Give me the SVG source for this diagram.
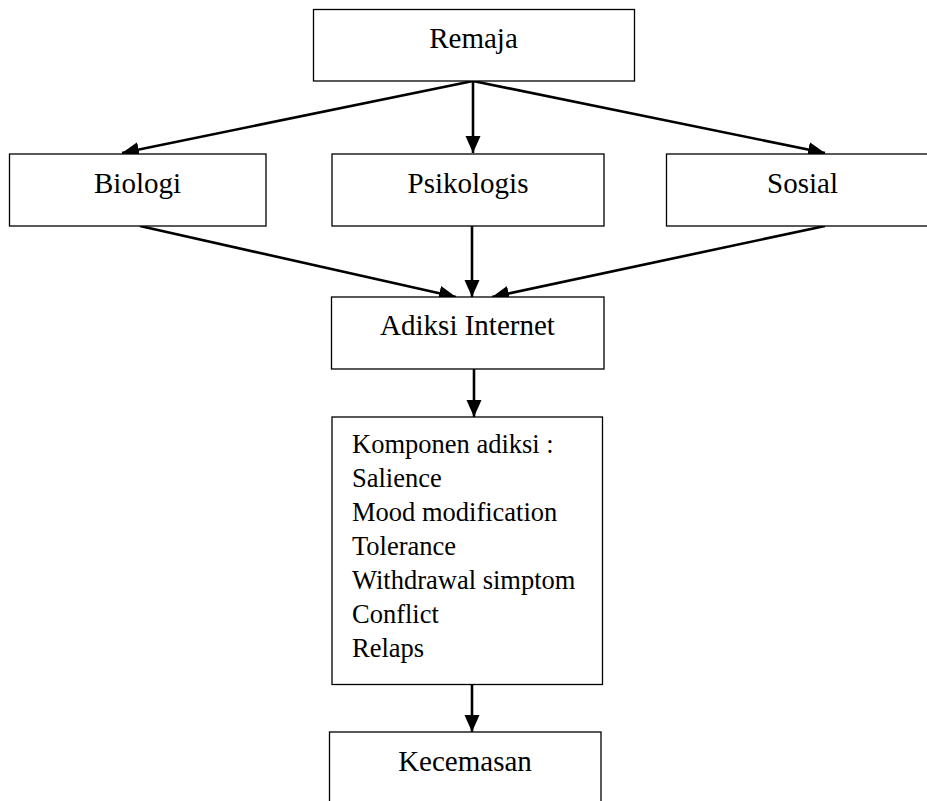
<svg xmlns="http://www.w3.org/2000/svg" width="927" height="801" viewBox="0 0 927 801">
<style>
.box{fill:#fff;stroke:#000;stroke-width:1.3}
.t{font-family:"Liberation Serif","Times New Roman",serif;font-size:29px;fill:#000;text-anchor:middle}
.l{font-family:"Liberation Serif","Times New Roman",serif;font-size:26.5px;fill:#000}
.c{stroke:#000;stroke-width:2.6;fill:none;marker-end:url(#ah)}
</style>
<defs>
<marker id="ah" markerUnits="userSpaceOnUse" markerWidth="18" markerHeight="16" refX="17" refY="7.5" orient="auto">
<path d="M0,0 L17,7.5 L0,15 Z" fill="#000"/>
</marker>
</defs>
<g id="connectors">
<line class="c" x1="473" y1="81" x2="122" y2="153"/>
<line class="c" x1="473" y1="81" x2="473" y2="153"/>
<line class="c" x1="473" y1="81" x2="825" y2="153"/>
<line class="c" x1="140" y1="226" x2="456" y2="297"/>
<line class="c" x1="472" y1="226" x2="472" y2="297"/>
<line class="c" x1="825" y1="226" x2="492" y2="297"/>
<line class="c" x1="474" y1="369" x2="474" y2="417"/>
<line class="c" x1="472" y1="685" x2="472" y2="732"/>
</g>
<g id="remaja"><rect class="box" x="313.5" y="9.5" width="321" height="71.5"/><text class="t" x="473.5" y="48">Remaja</text></g>
<g id="biologi"><rect class="box" x="9.5" y="154" width="256.5" height="72"/><text class="t" x="137.5" y="193">Biologi</text></g>
<g id="psikologis"><rect class="box" x="332" y="154" width="272" height="72"/><text class="t" x="468" y="193">Psikologis</text></g>
<g id="sosial"><rect class="box" x="666.5" y="154" width="275" height="72"/><text class="t" x="802.5" y="193">Sosial</text></g>
<g id="adiksi"><rect class="box" x="331.5" y="297" width="272.5" height="72"/><text class="t" x="467.5" y="335">Adiksi Internet</text></g>
<g id="komponen"><rect class="box" x="332" y="417" width="270.5" height="267.5"/>
<text class="l" x="352" y="453">Komponen adiksi :</text>
<text class="l" x="352" y="487">Salience</text>
<text class="l" x="352" y="521">Mood modification</text>
<text class="l" x="352" y="555">Tolerance</text>
<text class="l" x="352" y="589">Withdrawal simptom</text>
<text class="l" x="352" y="623">Conflict</text>
<text class="l" x="352" y="657">Relaps</text>
</g>
<g id="kecemasan"><rect class="box" x="329.5" y="732" width="271.5" height="80"/><text class="t" x="465" y="771">Kecemasan</text></g>
</svg>
